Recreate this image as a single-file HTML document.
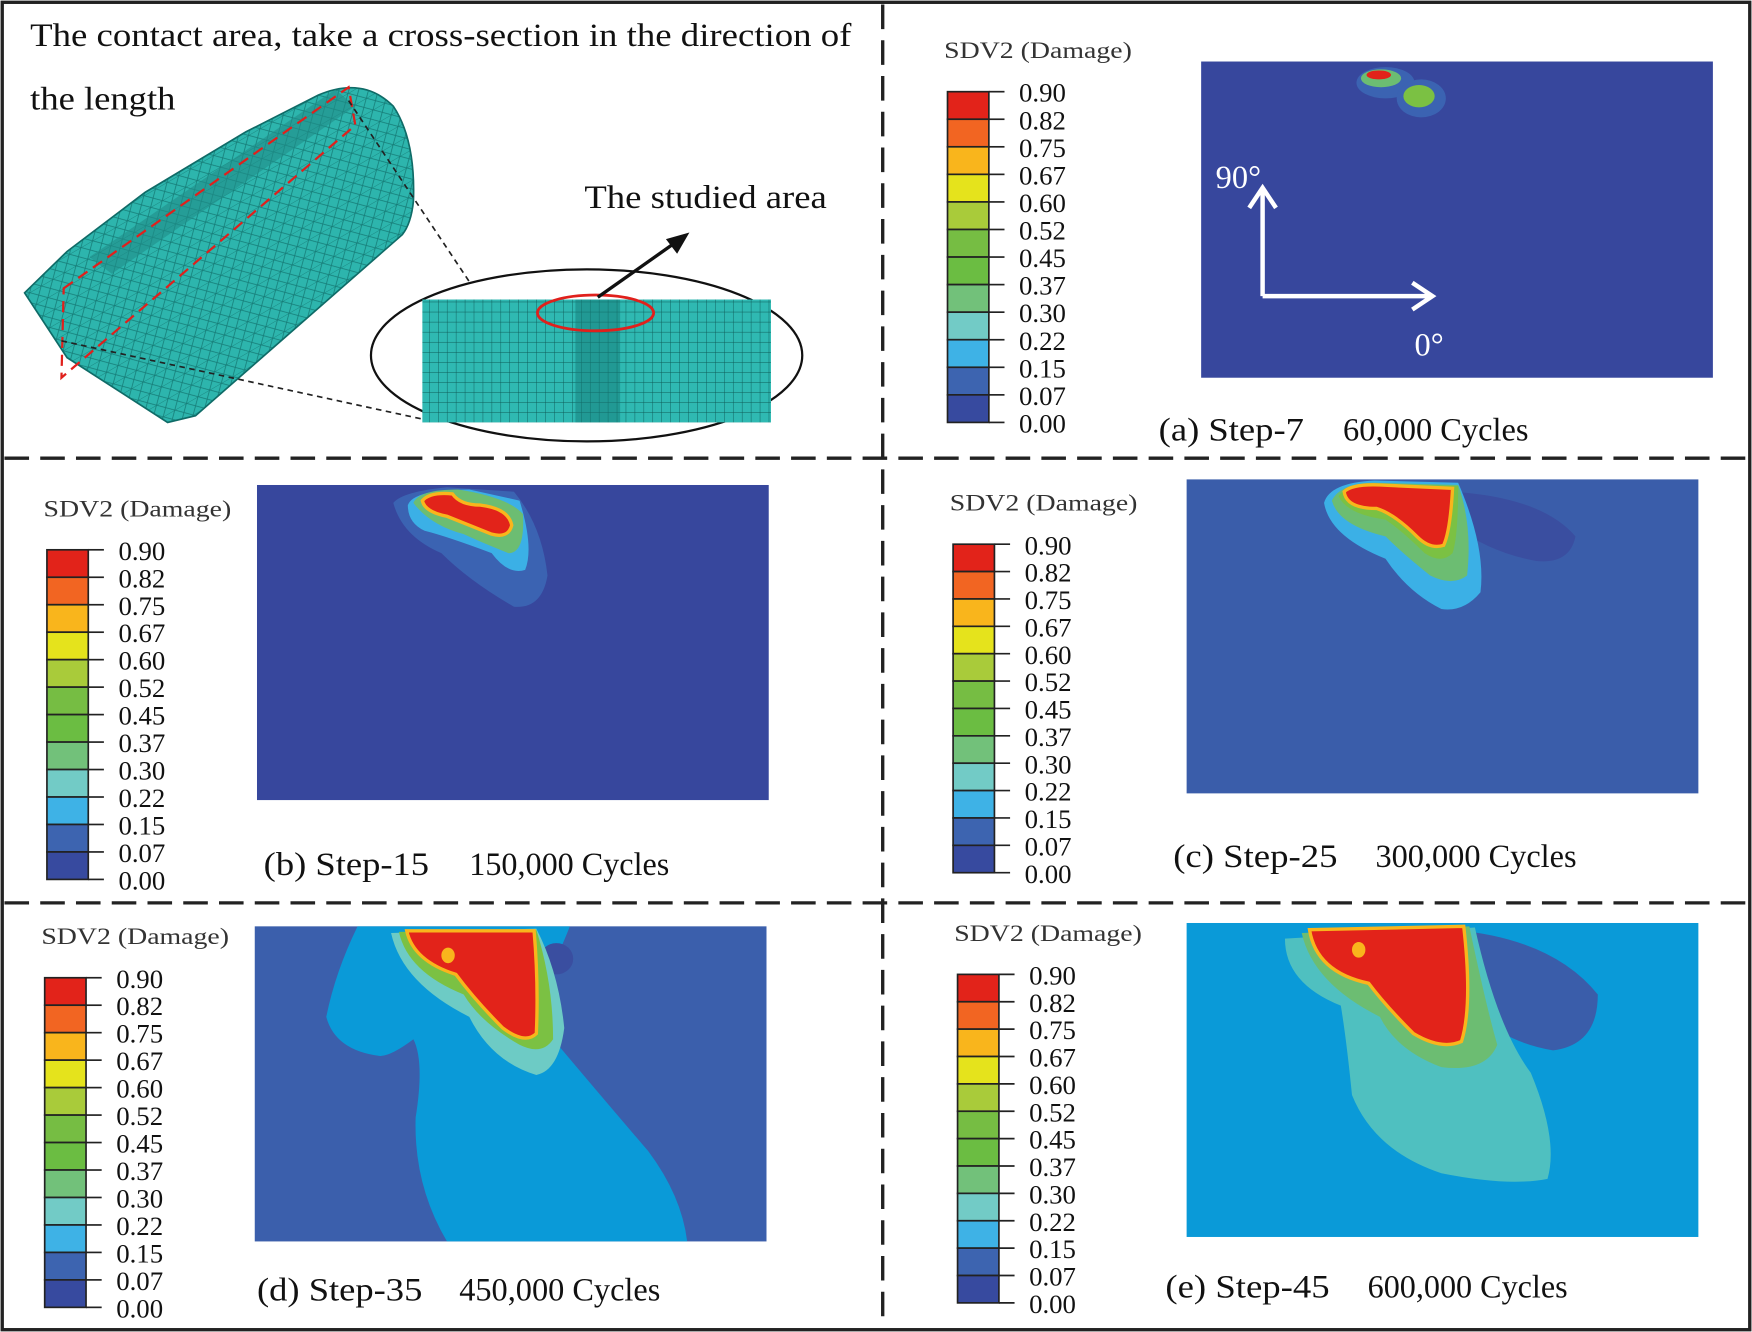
<!DOCTYPE html>
<html><head><meta charset="utf-8"><style>
html,body{margin:0;padding:0;background:#fff}
svg{display:block}
text{font-family:"Liberation Serif",serif;fill:#111}
</style></head><body>
<svg id="fig" width="1752" height="1332" viewBox="0 0 1568 1192" xmlns="http://www.w3.org/2000/svg">
<defs>
<pattern id="mesh" width="12" height="12" patternUnits="userSpaceOnUse" patternTransform="rotate(-30)">
<rect width="12" height="12" fill="#2db5ad"/><path d="M0 0L12 12M0 12L12 0M0 0H12" stroke="#157a75" stroke-width="0.7"/>
</pattern>
<pattern id="grid" width="8" height="9" patternUnits="userSpaceOnUse">
<rect width="8" height="9" fill="#2fb9b2"/><path d="M0 0H8M0 0V9" stroke="#0d5a57" stroke-width="0.8"/>
</pattern>
</defs>
<rect x="2" y="2" width="1564" height="1188" fill="#fff" stroke="#222" stroke-width="3"/>
<g stroke="#222" stroke-width="3" stroke-dasharray="22,10">
<line x1="790" y1="4" x2="790" y2="1188"/>
<line x1="4" y1="410" x2="1564" y2="410"/>
<line x1="4" y1="808" x2="1564" y2="808"/>
</g>

<g>
<text x="27" y="41" font-size="29" textLength="735" lengthAdjust="spacingAndGlyphs">The contact area, take a cross-section in the direction of</text>
<text x="27" y="98" font-size="29" textLength="130" lengthAdjust="spacingAndGlyphs">the length</text>
<path d="M22 262 L60 225 L130 172 L220 118 L285 85 Q325 68 352 95 Q372 125 370 180 Q368 200 360 210 L175 372 L150 378 L60 320 Z" fill="url(#mesh)" stroke="#0f6b67" stroke-width="1.5"/>
<path d="M80 230 L300 80 L318 95 L100 245 Z" fill="#1f8e89" opacity="0.6"/>
<path d="M57 258 L312 78 L318 112 L55 338 Z" fill="none" stroke="#e0201c" stroke-width="2" stroke-dasharray="10,6"/>
<g stroke="#222" stroke-width="1.5" stroke-dasharray="5,4" fill="none">
<line x1="312" y1="90" x2="420" y2="252"/>
<line x1="55" y1="305" x2="378" y2="375"/>
</g>
<ellipse cx="525" cy="318" rx="193" ry="77" fill="none" stroke="#111" stroke-width="2"/>
<rect x="378" y="268" width="312" height="110" fill="url(#grid)"/>
<rect x="515" y="268" width="40" height="110" fill="#137a75" opacity="0.5"/>
<ellipse cx="533" cy="280" rx="52" ry="16" fill="none" stroke="#e0201c" stroke-width="2.5"/>
<line x1="535" y1="266" x2="603" y2="218" stroke="#111" stroke-width="3"/>
<path d="M617 208 L596 214 L606 227 Z" fill="#111"/>
<text x="523" y="186" font-size="29" textLength="217" lengthAdjust="spacingAndGlyphs">The studied area</text>
</g>

<g>
<rect x="1075" y="55" width="458" height="283" fill="#37479d"/>
<ellipse cx="1240" cy="74" rx="26" ry="14" fill="#3b63b2"/>
<ellipse cx="1272" cy="88" rx="22" ry="17" fill="#3b63b2"/>
<ellipse cx="1236" cy="70" rx="18" ry="8" fill="#6cbd72"/>
<ellipse cx="1270" cy="86" rx="14" ry="10" fill="#7bc143"/>
<ellipse cx="1234" cy="67" rx="11" ry="4" fill="#e2231a"/>
<g stroke="#fff" stroke-width="4" fill="none">
<path d="M1130 265 V170 M1118 186 L1130 168 L1142 186"/>
<path d="M1130 265 H1280 M1264 253 L1282 265 L1264 277"/>
</g>
<text x="1088" y="168" font-size="29" style="fill:#fff">90°</text>
<text x="1266" y="318" font-size="29" style="fill:#fff">0°</text>
</g>

<g>
<rect x="230" y="434" width="458" height="282" fill="#37479d"/>
<path d="M352 450 Q360 440 400 436 L460 440 Q485 470 490 515 Q485 545 460 543 Q420 520 395 495 Q360 480 352 450 Z" fill="#3b63b2"/>
<path d="M365 452 Q370 438 420 438 L465 448 Q478 490 470 510 Q455 515 440 495 Q400 480 380 475 Q365 468 365 452 Z" fill="#3bb0e6"/>
<path d="M370 450 Q375 438 410 438 Q455 445 468 460 Q470 495 455 495 Q430 485 415 478 Q385 470 370 450 Z" fill="#6cbd72"/>
<path d="M378 448 Q385 440 405 442 Q412 452 430 452 Q455 455 458 470 Q455 482 440 478 Q420 470 400 462 Q380 458 378 448 Z" fill="#e2231a" stroke="#f9b51c" stroke-width="3"/>
</g>

<g>
<rect x="1062" y="429" width="458" height="281" fill="#3a5daa"/>
<path d="M1300 440 Q1380 445 1410 480 Q1405 505 1375 502 Q1335 495 1300 470 Z" fill="#3a4ea0"/>
<path d="M1185 450 Q1190 432 1230 430 L1305 432 Q1330 490 1325 530 Q1310 548 1290 545 Q1260 530 1240 500 Q1190 480 1185 450 Z" fill="#3bb0e6"/>
<path d="M1192 448 Q1200 432 1230 432 L1305 434 Q1318 470 1313 515 Q1300 525 1280 515 Q1255 495 1240 480 Q1198 470 1192 448 Z" fill="#6cbd72"/>
<path d="M1198 444 Q1205 433 1230 433 L1305 435 Q1305 480 1300 495 Q1290 505 1275 495 Q1255 475 1240 465 Q1205 460 1198 444 Z" fill="#7bc143"/>
<path d="M1203 440 Q1210 433 1235 434 L1300 437 Q1298 475 1292 488 Q1280 492 1268 480 Q1248 460 1232 455 Q1205 455 1203 440 Z" fill="#e2231a" stroke="#f9b51c" stroke-width="3"/>
</g>

<g>
<rect x="228" y="829" width="458" height="282" fill="#3b5fac"/>
<path d="M320 829 L510 829 Q490 880 470 900 Q520 960 580 1030 Q610 1070 615 1111 L400 1111 Q370 1060 372 1000 Q380 950 370 930 Q350 945 340 945 Q300 940 292 910 Q300 870 320 829 Z" fill="#0a9ad8"/>
<ellipse cx="498" cy="858" rx="15" ry="14" fill="#3a4ea0"/>
<path d="M350 835 L480 831 Q500 870 505 920 Q500 958 480 962 Q440 950 420 910 Q360 880 350 835 Z" fill="#6dcbc5"/>
<path d="M357 834 L480 832 Q495 880 495 930 Q485 945 465 935 Q430 915 415 890 Q365 870 357 834 Z" fill="#7bc143"/>
<path d="M364 833 L478 833 Q482 880 480 925 Q470 935 450 920 Q425 895 408 872 Q370 860 364 833 Z" fill="#e2231a" stroke="#f9b51c" stroke-width="3"/>
<ellipse cx="401" cy="855" rx="6" ry="7" fill="#f9b51c"/>
</g>

<g>
<rect x="1062" y="826" width="458" height="281" fill="#0a9ad8"/>
<path d="M1300 832 Q1390 840 1430 890 Q1430 935 1390 940 Q1330 930 1300 880 Z" fill="#3a5daa"/>
<path d="M1150 840 L1320 830 Q1340 920 1370 960 Q1395 1020 1385 1055 Q1350 1062 1290 1050 Q1230 1030 1210 980 Q1205 930 1200 900 Q1150 880 1150 840 Z" fill="#4fc0c0"/>
<path d="M1165 835 L1315 829 Q1330 900 1340 935 Q1330 960 1290 955 Q1250 940 1235 910 Q1175 880 1165 835 Z" fill="#6cbd72"/>
<path d="M1172 832 L1310 829 Q1318 900 1308 932 Q1290 940 1265 925 Q1240 900 1225 880 Q1178 870 1172 832 Z" fill="#e2231a" stroke="#f9b51c" stroke-width="3"/>
<ellipse cx="1216" cy="850" rx="6" ry="7" fill="#f9b51c"/>
</g>

<g font-size="29">
<text x="1037" y="394" textLength="130" lengthAdjust="spacingAndGlyphs">(a) Step-7</text>
<text x="1202" y="394" textLength="166" lengthAdjust="spacingAndGlyphs">60,000 Cycles</text>
<text x="236" y="783" textLength="148" lengthAdjust="spacingAndGlyphs">(b) Step-15</text>
<text x="420" y="783" textLength="179" lengthAdjust="spacingAndGlyphs">150,000 Cycles</text>
<text x="1050" y="776" textLength="147" lengthAdjust="spacingAndGlyphs">(c) Step-25</text>
<text x="1231" y="776" textLength="180" lengthAdjust="spacingAndGlyphs">300,000 Cycles</text>
<text x="230" y="1164" textLength="148" lengthAdjust="spacingAndGlyphs">(d) Step-35</text>
<text x="411" y="1164" textLength="180" lengthAdjust="spacingAndGlyphs">450,000 Cycles</text>
<text x="1043" y="1161" textLength="147" lengthAdjust="spacingAndGlyphs">(e) Step-45</text>
<text x="1224" y="1161" textLength="179" lengthAdjust="spacingAndGlyphs">600,000 Cycles</text>
</g>
<g id="legends"></g>
</svg>
<script>
const tickLabels = ["0.90","0.82","0.75","0.67","0.60","0.52","0.45","0.37","0.30","0.22","0.15","0.07","0.00"];
const binColors = ["#e2231a","#f26522","#f9b51c","#e5e31c","#a9cb3a","#76bd43","#6bbd42","#72c17a","#72cbc6","#3eb2e6","#3d64b0","#374a9f"];
const legendNames = ["a","b","c","d","e"];
const legendX = [848,42,853,40,857];
const legendTop = [82,492,487,875,872];
const legendBottom = [378,787,781,1170,1166];
const NS = "http://www.w3.org/2000/svg";
const root = document.getElementById("legends");
function mk(tag, attrs, parent){const e=document.createElementNS(NS,tag);for(const k in attrs)e.setAttribute(k,attrs[k]);parent.appendChild(e);return e;}
legendNames.forEach((nm,i)=>{
  const g = mk("g",{},root);
  
  
  const x = legendX[i], t = legendTop[i], b = legendBottom[i];
  const n = binColors.length, h = (b - t) / n, w = 37;
  const title = mk("text",{x:x-3,y:t-30,"font-size":21,textLength:168,lengthAdjust:"spacingAndGlyphs",style:"fill:#333"},g);
  title.textContent = "SDV2 (Damage)";
  
  
  binColors.forEach((c,j)=>{
    const r = mk("rect",{x:x,y:t+j*h,width:w,height:h,fill:c,stroke:"#222","stroke-width":1.5},g);
    
    
  });
  tickLabels.forEach((lb,j)=>{
    const y = t + j*(b-t)/(tickLabels.length-1);
    mk("line",{x1:x+w,y1:y,x2:x+w+14,y2:y,stroke:"#222","stroke-width":1.5},g);
    const tx = mk("text",{x:x+w+27,y:y+9,"font-size":24},g);
    tx.textContent = lb;
    
    
  });
});
</script>
</body></html>
